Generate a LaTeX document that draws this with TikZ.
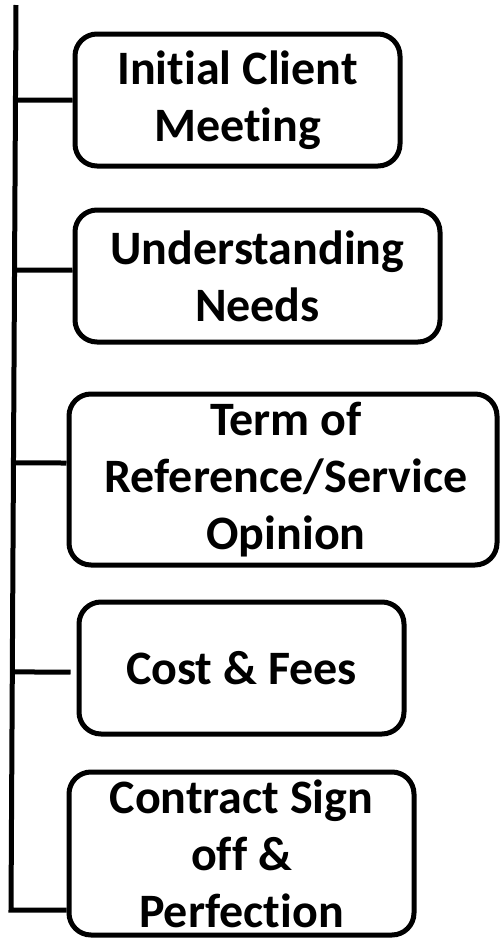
\documentclass[tikz,border=0pt]{standalone}
\usepackage{fontspec}
\setmainfont[Ligatures={NoCommon}]{Carlito}
\usetikzlibrary{calc}
\begin{document}
\begin{tikzpicture}[x=1pt,y=-1pt,
  stage/.style={draw=black, line width=5pt, rounded corners=22pt, inner sep=0pt,
    align=center, font=\fontsize{48}{57}\selectfont\bfseries, fill=white},
  link/.style={draw=black, line width=5pt}]
\useasboundingbox (0,0) rectangle (500,938);
\node[stage, minimum width=325pt, minimum height=132pt] (b1) at (237.5,100) {Initial Client\\Meeting};
\node[stage, minimum width=365pt, minimum height=132pt] (b2) at (257.5,276) {Understanding\\Needs};
\node[stage, minimum width=428pt, minimum height=171pt] (b3) at (283,479.5) {\hspace*{6pt}Term of\\\hspace*{6pt}Reference/Service\\\hspace*{6pt}Opinion};
\node[stage, minimum width=325pt, minimum height=132pt] (b4) at (241.5,668) {Cost \& Fees};
\node[stage, minimum width=345pt, minimum height=163pt] (b5) at (241.5,853.5) {Contract Sign\\off \&\\Perfection};
\coordinate (top) at (16,5);
\coordinate (bot) at (11,910);
\draw[link] (top) -- (bot) -- (bot -| b5.west);
\draw[link] ($(top)!0.105!(bot)$) -- (b1.west);
\draw[link] ($(top)!0.293!(bot)$) -- ($(b2.west)+(0,-6)$);
\draw[link] ($(top)!0.506!(bot)$) -- ($(b3.west)+(0,-16.5)$);
\draw[link] ($(top)!0.737!(bot)$) -- ($(b4.west)+(-6,4)$);
\end{tikzpicture}
\end{document}
